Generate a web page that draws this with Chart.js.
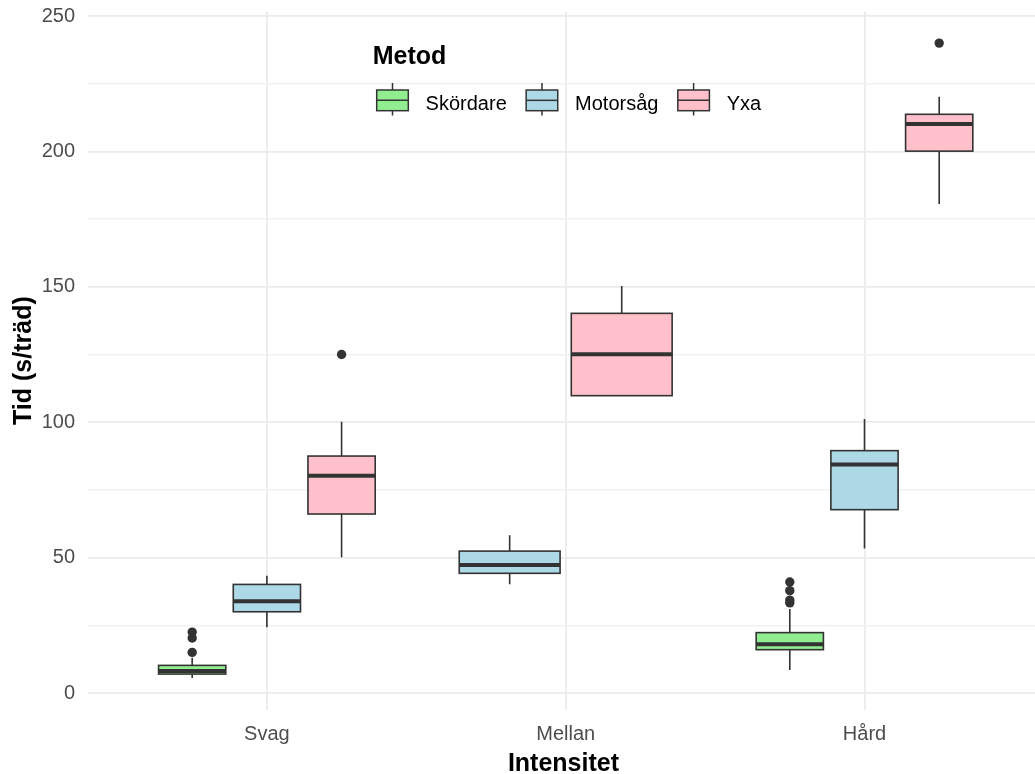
<!DOCTYPE html>
<html>
<head>
<meta charset="utf-8">
<script src="https://cdn.jsdelivr.net/npm/chart.js@4.4.0/dist/chart.umd.min.js"></script>
<style>
  html, body { margin: 0; padding: 0; background: #fff; overflow: hidden; }
  canvas { display: block; }
</style>
</head>
<body>
<canvas id="chart" width="1044" height="774"></canvas>
<script>
const FONT = "'Liberation Sans', Arial, sans-serif";

const categories = ['Svag', 'Mellan', 'Hård'];
const methods = ['Skördare', 'Motorsåg', 'Yxa'];
const methodColors = ['#90EE90', '#ADD8E6', '#FFC0CB'];
const yTicks = [0, 25, 50, 75, 100, 125, 150, 175, 200, 225, 250];

// [min, q1, median, q3, max] per intensitet, null = no data
const skordareStats = [[5.5, 7.0, 8.1, 10.2, 13.0], null, [8.5, 16.0, 18.0, 22.3, 31.0]];
const motorsagStats = [[24.3, 30.0, 33.9, 40.1, 43.3], [40.2, 44.2, 47.3, 52.4, 58.3], [53.4, 67.7, 84.4, 89.5, 101.2]];
const yxaStats = [[50.1, 66.1, 80.2, 87.5, 100.2], [109.8, 109.8, 125.1, 140.2, 150.3], [180.6, 200.1, 210.1, 213.7, 220.2]];

const skordareOutliers = [[15.0, 20.3, 22.5], [], [33.3, 34.3, 37.8, 41.0]];
const motorsagOutliers = [[], [], []];
const yxaOutliers = [[125.0], [], [240.0]];

const allStats = [skordareStats, motorsagStats, yxaStats];
const allOutliers = [skordareOutliers, motorsagOutliers, yxaOutliers];

// ggplot-style dodge: groups present in a category share 0.75 of the slot
function dodge(m, c) {
  const present = allStats.map((s, i) => s[c] ? i : -1).filter(i => i >= 0);
  const n = present.length;
  const w = 0.75 / n;
  const k = present.indexOf(m);
  return { x: c + 1 - 0.375 + w * (k + 0.5), width: w * 0.9 };
}

const datasets = methods.map((name, m) => ({
  label: name,
  data: allOutliers[m].flatMap((vals, c) => vals.map(v => ({ x: dodge(m, c).x, y: v }))),
  pointRadius: 4.7,
  pointHoverRadius: 4.7,
  pointBackgroundColor: '#333333',
  pointBorderWidth: 0,
  showLine: false,
}));

const boxPlugin = {
  id: 'boxes',
  beforeDatasetsDraw(chart) {
    const { ctx, scales: { x, y } } = chart;
    ctx.save();
    allStats.forEach((stats, m) => {
      stats.forEach((s, c) => {
        if (!s) return;
        const d = dodge(m, c);
        const cx = x.getPixelForValue(d.x);
        const left = x.getPixelForValue(d.x - d.width / 2);
        const right = x.getPixelForValue(d.x + d.width / 2);
        const [yMin, yQ1, yMed, yQ3, yMax] = s.map(v => y.getPixelForValue(v));
        ctx.strokeStyle = '#333333';
        ctx.lineWidth = 1.6;
        ctx.beginPath();
        ctx.moveTo(cx, yMax); ctx.lineTo(cx, yQ3);
        ctx.moveTo(cx, yQ1); ctx.lineTo(cx, yMin);
        ctx.stroke();
        ctx.fillStyle = methodColors[m];
        ctx.fillRect(left, yQ3, right - left, yQ1 - yQ3);
        ctx.strokeRect(left, yQ3, right - left, yQ1 - yQ3);
        ctx.lineWidth = 4;
        ctx.beginPath();
        ctx.moveTo(left, yMed); ctx.lineTo(right, yMed);
        ctx.stroke();
      });
    });
    ctx.restore();
  },
};

const legendPlugin = {
  id: 'metodLegend',
  afterDraw(chart) {
    const ctx = chart.ctx;
    ctx.save();
    ctx.textBaseline = 'alphabetic';
    ctx.fillStyle = '#000';
    ctx.font = 'bold 25px ' + FONT;
    ctx.fillText('Metod', 372.7, 64.3);
    ctx.font = '20px ' + FONT;
    let kx = 376.7;
    const kw = 31.6, top = 90, bot = 110.7;
    methods.forEach((name, i) => {
      const cx = kx + kw / 2;
      const mid = (top + bot) / 2;
      ctx.strokeStyle = '#333333';
      ctx.lineWidth = 1.5;
      ctx.beginPath();
      ctx.moveTo(cx, 83); ctx.lineTo(cx, top);
      ctx.moveTo(cx, bot); ctx.lineTo(cx, 115.5);
      ctx.stroke();
      ctx.fillStyle = methodColors[i];
      ctx.fillRect(kx, top, kw, bot - top);
      ctx.strokeRect(kx, top, kw, bot - top);
      ctx.beginPath();
      ctx.moveTo(kx, mid); ctx.lineTo(kx + kw, mid);
      ctx.stroke();
      const lx = kx + kw + 17.3;
      ctx.fillStyle = '#000';
      ctx.fillText(name, lx, 110);
      kx = lx + ctx.measureText(name).width + 19.4;
    });
    ctx.restore();
  },
};

new Chart(document.getElementById('chart').getContext('2d'), {
  type: 'scatter',
  data: { datasets },
  plugins: [boxPlugin, legendPlugin],
  options: {
    responsive: false,
    animation: false,
    layout: { padding: { top: 11.4, left: 0, right: 0, bottom: 0 } },
    plugins: {
      legend: { display: false },
      tooltip: { enabled: false },
    },
    scales: {
      x: {
        type: 'linear',
        min: 0.4,
        max: 3.585,
        afterBuildTicks: (scale) => { scale.ticks = categories.map((_, i) => ({ value: i + 1 })); },
        afterFit: (scale) => { scale.height = 64.2; scale.paddingLeft = 0; scale.paddingRight = 0; },
        border: { display: false },
        grid: { drawTicks: false, color: '#EBEBEB', lineWidth: 1.8 },
        ticks: {
          padding: 12.5,
          color: '#4D4D4D',
          font: { family: FONT, size: 20 },
          callback: (v) => categories[v - 1],
        },
        title: {
          display: true,
          text: 'Intensitet',
          color: '#000',
          padding: 0,
          font: { family: FONT, size: 25, weight: 'bold', lineHeight: 0.76 },
        },
      },
      y: {
        min: -6.2,
        max: 251.7,
        afterBuildTicks: (scale) => { scale.ticks = yTicks.map(v => ({ value: v })); },
        afterFit: (scale) => { scale.width = 87.6; scale.paddingTop = 0; scale.paddingBottom = 0; },
        border: { display: false },
        grid: {
          drawTicks: false,
          color: (c) => (c.tick && c.tick.value % 50 === 0 ? '#EBEBEB' : '#F1F1F1'),
          lineWidth: (c) => (c.tick && c.tick.value % 50 === 0 ? 1.8 : 1.4),
        },
        ticks: {
          padding: 12.5,
          color: '#4D4D4D',
          font: { family: FONT, size: 20 },
          callback: (v) => (v % 50 === 0 ? v : ''),
        },
        title: {
          display: true,
          text: 'Tid (s/träd)',
          color: '#000',
          padding: { top: 9, bottom: 0 },
          font: { family: FONT, size: 25, weight: 'bold' },
        },
      },
    },
  },
});
</script>
</body>
</html>
